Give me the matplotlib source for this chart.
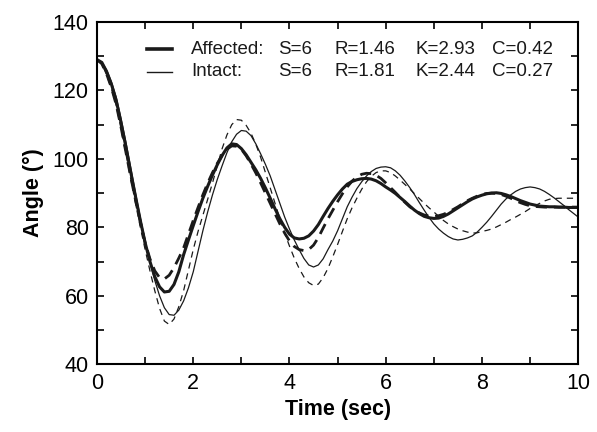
import numpy as np
import matplotlib
matplotlib.use("Agg")
import matplotlib.pyplot as plt
from matplotlib.ticker import MultipleLocator

plt.rcParams['font.family'] = ['Liberation Sans', 'DejaVu Sans']

time = np.linspace(0, 10, 101)

affected_obs = [
    129.0, 128.2, 125.5, 121.8, 117.0, 110.5, 103.5, 96.2, 89.0, 82.0,
    75.5, 70.0, 65.6, 62.6, 61.1, 61.3, 63.3, 67.0, 72.0, 76.3,
    80.5, 84.6, 88.5, 92.0, 95.3, 98.3, 101.0, 103.2, 104.4, 104.2,
    103.0, 101.2, 99.0, 96.8, 94.3, 91.5, 88.5, 85.4, 82.5, 80.0,
    78.0, 76.9, 76.6, 76.8, 77.5, 78.9, 80.8, 83.2, 85.5, 87.6,
    89.5, 91.2, 92.6, 93.4, 93.9, 94.2, 94.3, 94.1, 93.6, 92.8,
    91.8, 90.9, 89.9, 88.7, 87.5, 86.2, 85.0, 84.0, 83.2, 82.8,
    82.6, 82.7, 83.2, 83.9, 84.8, 85.7, 86.6, 87.5, 88.3, 88.9,
    89.4, 89.8, 90.0, 90.1, 89.9, 89.5, 89.0, 88.4, 87.8, 87.3,
    86.8, 86.5, 86.2, 86.1, 86.0, 86.0, 85.9, 85.9, 85.8, 85.8,
    85.8]

affected_model = [
    129.0, 127.8, 124.8, 120.8, 115.8, 109.2, 102.0, 94.8, 88.0, 81.5,
    75.5, 70.8, 67.3, 65.3, 64.9, 66.0, 68.2, 71.0, 74.0, 78.0,
    82.0, 85.8, 89.5, 92.9, 96.0, 98.7, 101.0, 102.8, 103.8, 103.7,
    102.8, 100.9, 98.5, 95.9, 93.0, 90.0, 87.0, 84.0, 81.0, 78.3,
    76.0, 74.4, 73.5, 73.2, 73.5, 74.8, 77.0, 79.8, 82.5, 85.0,
    87.5, 89.8, 91.8, 93.5, 94.7, 95.5, 95.8, 95.7, 95.2, 94.3,
    93.0, 91.6, 90.2, 88.7, 87.3, 86.0, 85.0, 84.2, 83.6, 83.3,
    83.2, 83.4, 83.8, 84.4, 85.2, 86.0, 86.9, 87.8, 88.5, 89.1,
    89.6, 89.9, 90.0, 89.9, 89.6, 89.1, 88.5, 87.8, 87.2, 86.7,
    86.3, 86.1, 86.0, 85.9, 85.9, 85.9, 85.9, 85.9, 85.9, 85.9,
    85.9]

intact_obs = [
    129.0, 128.3, 126.0, 122.5, 118.0, 111.8, 105.0, 97.5, 90.0, 82.8,
    76.0, 69.8, 64.5, 60.0, 56.5, 54.5, 54.3, 55.8, 58.5, 62.3,
    67.0, 73.0, 79.0, 84.5, 89.5, 94.0, 98.0, 101.8, 105.0, 107.2,
    108.3, 108.1, 106.8, 104.4, 101.5, 98.4, 95.0, 91.0, 87.0, 83.0,
    79.5, 76.3, 73.5, 70.9, 69.0, 68.4, 69.0, 70.8, 73.5, 76.0,
    79.0, 82.5, 86.0, 88.8, 91.3, 93.3, 95.0, 96.3, 97.2, 97.6,
    97.7, 97.4, 96.5, 95.2, 93.5, 91.6, 89.5, 87.2, 85.0, 82.9,
    81.0, 79.5, 78.3, 77.3, 76.6, 76.3, 76.5, 76.9, 77.5, 78.6,
    80.0, 81.5, 83.2, 85.0, 86.8, 88.3, 89.5, 90.5, 91.2, 91.6,
    91.8, 91.6, 91.2, 90.5, 89.6, 88.6, 87.5, 86.4, 85.2, 84.1,
    83.0]

intact_model = [
    129.0, 127.8, 124.5, 120.5, 115.5, 108.8, 101.5, 94.2, 87.0, 80.0,
    73.5, 67.3, 61.5, 56.3, 52.6, 51.6, 53.2, 56.8, 61.5, 67.5,
    73.5, 78.8, 83.5, 88.2, 93.0, 98.0, 103.0, 107.0, 110.0, 111.5,
    111.3, 109.8, 107.5, 104.3, 100.5, 96.0, 91.5, 87.0, 82.5, 78.3,
    74.5, 71.0, 68.0, 65.5, 63.8, 63.0, 63.4, 65.3, 68.0, 71.4,
    75.0, 78.8, 82.5, 85.7, 88.5, 91.1, 93.3, 94.9, 96.0, 96.5,
    96.5, 96.0, 95.0, 93.8, 92.5, 91.2, 89.8, 88.4, 87.0, 85.7,
    84.5, 83.2, 82.0, 81.0, 80.2, 79.5, 79.0, 78.6, 78.3, 78.4,
    78.8, 79.1, 79.5, 80.1, 80.8, 81.5, 82.3, 83.0, 83.8, 84.6,
    85.5, 86.3, 87.0, 87.7, 88.2, 88.4, 88.5, 88.5, 88.5, 88.5,
    88.5]

legend_rows = [
    ("Affected:", "S=6", "R=1.46", "K=2.93", "C=0.42"),
    ("Intact:", "S=6", "R=1.81", "K=2.44", "C=0.27"),
]

fig = plt.figure(figsize=(5.97, 4.32), dpi=100)
ax = fig.add_axes([0.1625, 0.157, 0.806, 0.792])

c = '#1a1a1a'
ax.plot(time, intact_model, color=c, lw=0.9, ls=(0, (5, 4)))
ax.plot(time, intact_obs, color=c, lw=0.9)
ax.plot(time, affected_model, color=c, lw=2.0, ls=(0, (4, 2.5)))
ax.plot(time, affected_obs, color=c, lw=2.2)

ax.set_xlim(0, 10)
ax.set_ylim(40, 140)
ax.xaxis.set_major_locator(MultipleLocator(2))
ax.xaxis.set_minor_locator(MultipleLocator(1))
ax.yaxis.set_major_locator(MultipleLocator(20))
ax.yaxis.set_minor_locator(MultipleLocator(10))
ax.tick_params(which='both', direction='in', top=True, right=True,
               length=5, width=1.2, labelsize=15.5, pad=6)
for s in ax.spines.values():
    s.set_linewidth(1.5)

ax.set_xlabel("Time (sec)", fontsize=15.5, fontweight='bold', labelpad=4)
ax.set_ylabel("Angle (°)", fontsize=15.5, fontweight='bold', labelpad=6)

# legend
ys = [0.921, 0.854]
lws = [2.6, 1.0]
xs = [0.195, 0.376, 0.493, 0.661, 0.821]
for row, y, lw in zip(legend_rows, ys, lws):
    ax.plot([0.104, 0.156], [y, y], color=c, lw=lw, transform=ax.transAxes)
    for txt, x in zip(row, xs):
        ax.text(x, y, txt, transform=ax.transAxes, fontsize=13.5,
                va='center', ha='left', color=c)

fig.savefig("out.png", dpi=100)
